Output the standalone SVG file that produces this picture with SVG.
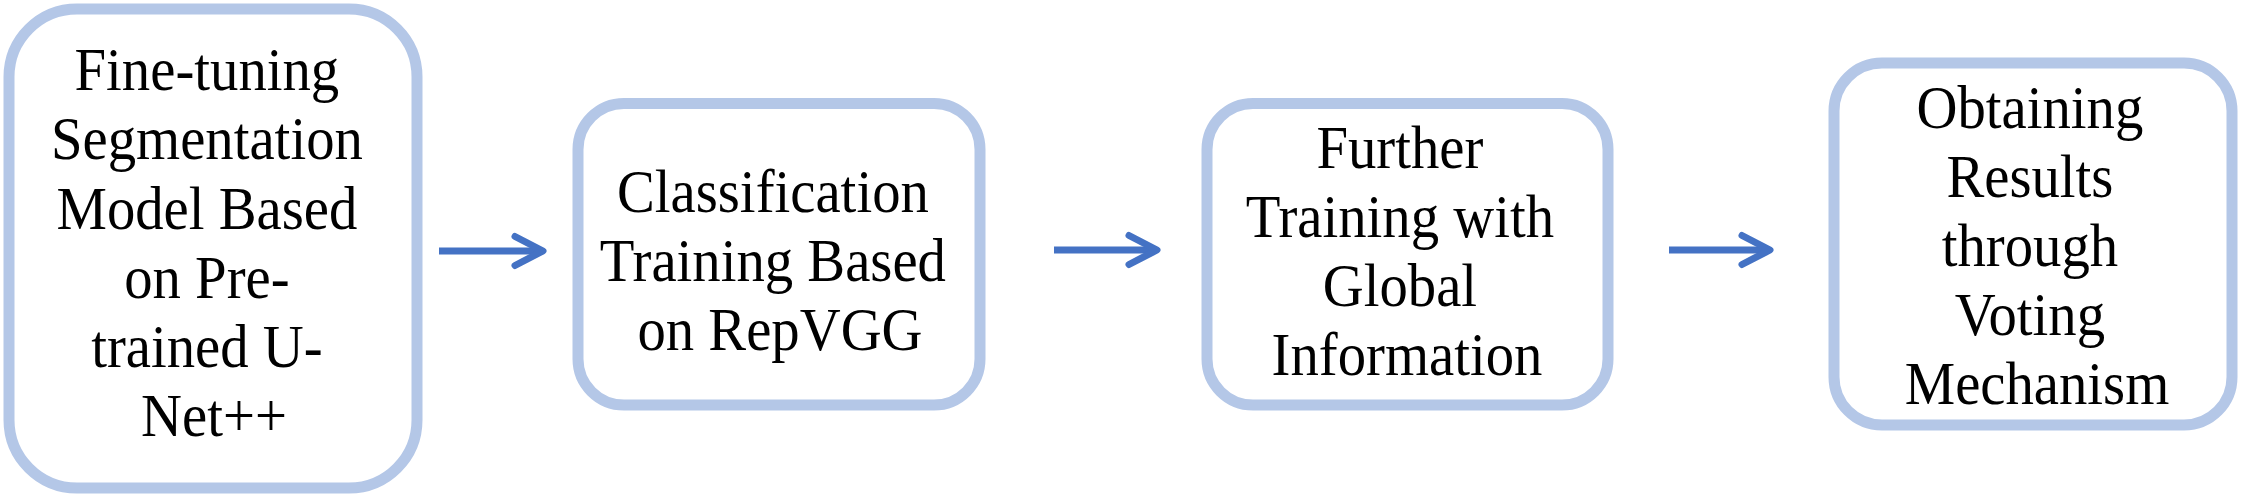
<svg xmlns="http://www.w3.org/2000/svg" width="2250" height="502" viewBox="0 0 2250 502">
  <style>
    .box { fill: #FFFFFF; stroke: #B4C7E7; stroke-width: 11; }
    .lbl { font-family: "Liberation Serif", "Times New Roman", serif; font-size: 61px; fill: #000000; text-anchor: middle; }
    .conn { stroke: #4472C4; stroke-width: 7; fill: none; }
  </style>
  <defs>
    <marker id="chev" viewBox="-40 -20 46 40" markerUnits="userSpaceOnUse" markerWidth="46" markerHeight="40" refX="0" refY="0" orient="auto" overflow="visible">
      <polyline points="-28,-14.5 0,0 -28,14.5" fill="none" stroke="#4472C4" stroke-width="7" stroke-linejoin="round" stroke-linecap="round"/>
    </marker>
  </defs>
  <rect width="2250" height="502" fill="#FFFFFF"/>

  <g id="node1">
    <rect class="box" x="9" y="9" width="408" height="479" rx="68" ry="68"/>
    <g transform="translate(214 0) scale(0.93 1)">
      <text class="lbl">
        <tspan x="0" y="90">Fine-tuning</tspan>
        <tspan x="0" y="159.3">Segmentation</tspan>
        <tspan x="0" y="228.6">Model Based</tspan>
        <tspan x="0" y="297.9">on Pre-</tspan>
        <tspan x="0" y="367.2">trained U-</tspan>
        <tspan x="0" y="436.5">Net++</tspan>
      </text>
    </g>
  </g>

  <g id="node2">
    <rect class="box" x="578" y="103.5" width="402" height="301.5" rx="46" ry="46"/>
    <g transform="translate(780 0) scale(0.93 1)">
      <text class="lbl">
        <tspan x="0" y="212">Classification</tspan>
        <tspan x="0" y="281">Training Based</tspan>
        <tspan x="0" y="350">on RepVGG</tspan>
      </text>
    </g>
  </g>

  <g id="node3">
    <rect class="box" x="1207" y="103.5" width="401" height="301.5" rx="46" ry="46"/>
    <g transform="translate(1407 0) scale(0.93 1)">
      <text class="lbl">
        <tspan x="0" y="168">Further</tspan>
        <tspan x="0" y="237">Training with</tspan>
        <tspan x="0" y="306">Global</tspan>
        <tspan x="0" y="375">Information</tspan>
      </text>
    </g>
  </g>

  <g id="node4">
    <rect class="box" x="1834" y="63" width="398" height="362" rx="48" ry="48"/>
    <g transform="translate(2037 0) scale(0.93 1)">
      <text class="lbl">
        <tspan x="0" y="128">Obtaining</tspan>
        <tspan x="0" y="197">Results</tspan>
        <tspan x="0" y="266">through</tspan>
        <tspan x="0" y="335">Voting</tspan>
        <tspan x="0" y="404">Mechanism</tspan>
      </text>
    </g>
  </g>

  <g id="connectors">
    <path class="conn" d="M439 251 H543" marker-end="url(#chev)"/>
    <path class="conn" d="M1054 250 H1157" marker-end="url(#chev)"/>
    <path class="conn" d="M1669 250 H1770" marker-end="url(#chev)"/>
  </g>
</svg>
